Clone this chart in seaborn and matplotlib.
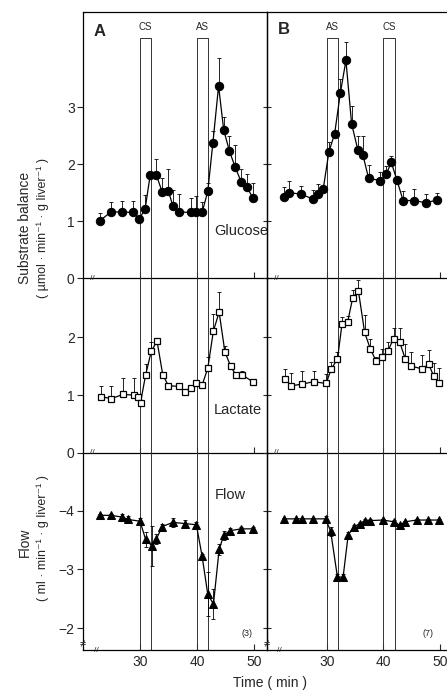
import numpy as np
import matplotlib
matplotlib.use('Agg')
import matplotlib.pyplot as plt
import seaborn as sns

# --- data (time in min) ---
glc_a_t = [22.9, 24.9, 26.9, 28.8, 29.9, 30.9, 31.8, 32.9, 33.9, 35.0, 35.8, 36.8,
           38.9, 39.9, 40.9, 41.9, 42.8, 43.8, 44.7, 45.7, 46.7, 47.8, 48.8, 49.8]
glc_a = [1.00, 1.16, 1.16, 1.15, 1.04, 1.21, 1.81, 1.80, 1.51, 1.52, 1.26, 1.16,
         1.15, 1.15, 1.15, 1.52, 2.37, 3.37, 2.60, 2.23, 1.95, 1.68, 1.59, 1.41]
glc_a_err = [0.14, 0.17, 0.20, 0.20, 0.0, 0.25, 0.0, 0.29, 0.24, 0.40, 0.29, 0.31,
             0.25, 0.29, 0.18, 0.14, 0.21, 0.50, 0.22, 0.27, 0.38, 0.23, 0.23, 0.25]

glc_b_t = [22.4, 23.4, 25.5, 27.5, 28.4, 29.4, 30.4, 31.4, 32.4, 33.4, 34.4,
           35.5, 36.4, 37.4, 39.5, 40.5, 41.4, 42.4, 43.5, 45.5, 47.5, 49.5]
glc_b = [1.43, 1.50, 1.47, 1.39, 1.47, 1.57, 2.22, 2.53, 3.24, 3.82, 2.71,
         2.25, 2.16, 1.75, 1.71, 1.82, 2.03, 1.72, 1.36, 1.36, 1.32, 1.37]
glc_b_err = [0.16, 0.21, 0.15, 0.16, 0.18, 0.0, 0.16, 0.0, 0.25, 0.33, 0.31,
             0.25, 0.33, 0.24, 0.15, 0.15, 0.12, 0.0, 0.17, 0.20, 0.15, 0.13]

lac_a_t = [23.1, 25.0, 27.0, 28.9, 29.7, 30.1, 31.0, 32.0, 33.0, 34.0, 35.0, 36.9,
           37.9, 38.9, 39.9, 40.9, 41.9, 42.9, 43.9, 44.9, 45.9, 46.8, 47.9, 49.8]
lac_a = [0.97, 0.94, 1.01, 1.00, 0.97, 0.87, 1.35, 1.76, 1.93, 1.35, 1.16, 1.15,
         1.05, 1.13, 1.20, 1.17, 1.46, 2.11, 2.43, 1.75, 1.50, 1.35, 1.35, 1.23]
lac_a_err = [0.19, 0.22, 0.28, 0.29, 0.0, 0.0, 0.18, 0.16, 0.0, 0.0, 0.0, 0.0,
             0.0, 0.0, 0.0, 0.05, 0.19, 0.29, 0.34, 0.10, 0.0, 0.0, 0.06, 0.0]

lac_b_t = [22.6, 23.75, 25.7, 27.7, 29.9, 30.8, 31.9, 32.7, 33.7, 34.6, 35.6, 36.7,
           37.7, 38.75, 39.8, 40.8, 41.8, 42.9, 43.9, 44.9, 46.9, 48.0, 48.9, 49.8]
lac_b = [1.28, 1.16, 1.19, 1.23, 1.20, 1.45, 1.62, 2.22, 2.26, 2.68, 2.80, 2.08,
         1.80, 1.58, 1.66, 1.76, 1.97, 1.91, 1.62, 1.50, 1.45, 1.53, 1.33, 1.20]
lac_b_err = [0.17, 0.22, 0.23, 0.19, 0.17, 0.12, 0.13, 0.12, 0.10, 0.13, 0.18, 0.30,
             0.17, 0.08, 0.14, 0.15, 0.19, 0.24, 0.26, 0.24, 0.24, 0.25, 0.23, 0.26]

flow_a_t = [22.9, 24.9, 26.9, 27.9, 30.0, 31.0, 32.1, 32.9, 33.9, 35.8,
            37.9, 39.9, 40.9, 41.9, 42.9, 43.9, 44.7, 45.8, 47.8, 49.8]
flow_a = [-3.92, -3.92, -3.89, -3.85, -3.82, -3.51, -3.40, -3.52, -3.73, -3.80,
          -3.78, -3.76, -3.23, -2.58, -2.41, -3.34, -3.58, -3.66, -3.69, -3.69]
flow_a_err = [0.03, 0.03, 0.05, 0.06, 0.05, 0.13, 0.34, 0.08, 0.05, 0.07,
              0.06, 0.05, 0.04, 0.37, 0.26, 0.10, 0.08, 0.05, 0.04, 0.04]

flow_b_t = [22.5, 24.6, 25.7, 27.6, 29.8, 30.7, 31.9, 32.9, 33.8, 34.8,
            35.8, 36.8, 37.7, 39.9, 41.9, 42.9, 43.8, 45.9, 47.9, 49.9]
flow_b = [-3.86, -3.86, -3.86, -3.86, -3.86, -3.65, -2.87, -2.87, -3.59, -3.72,
          -3.78, -3.83, -3.83, -3.84, -3.81, -3.75, -3.81, -3.84, -3.84, -3.84]
flow_b_err = [0.02, 0.02, 0.02, 0.02, 0.05, 0.08, 0.06, 0.06, 0.04, 0.03,
              0.03, 0.02, 0.02, 0.02, 0.03, 0.03, 0.02, 0.02, 0.02, 0.02]

# stimulus windows (label, start, end)
stim_a = [('CS', 30, 32), ('AS', 40, 42)]
stim_b = [('AS', 30, 32), ('CS', 40, 42)]

sns.set_style('ticks')
plt.rcParams['font.family'] = ['Liberation Sans', 'DejaVu Sans']

W, H = 447, 692
fig = plt.figure(figsize=(W / 100, H / 100), dpi=100)

def px_axes(x0, x1, y0, y1):
    # y0 = top pixel, y1 = bottom pixel
    return fig.add_axes([x0 / W, 1 - y1 / H, (x1 - x0) / W, (y1 - y0) / H])

rows = [(12, 278), (278, 453), (453, 650)]
cols = [(83, 267), (267, 449)]
xlims = [(20.0, 52.3), (19.46, 51.6)]
ylims = [(0, 4.67), (0, 3.02), (-1.63, -4.98)]

axes = [[px_axes(c[0], c[1], r[0], r[1]) for c in cols] for r in rows]

series = [
    [(glc_a_t, glc_a, glc_a_err), (glc_b_t, glc_b, glc_b_err)],
    [(lac_a_t, lac_a, lac_a_err), (lac_b_t, lac_b, lac_b_err)],
    [(flow_a_t, flow_a, flow_a_err), (flow_b_t, flow_b, flow_b_err)],
]
styles = [
    dict(marker='o', markersize=6, markerfacecolor='black', markeredgecolor='black'),
    dict(marker='s', markersize=5, markerfacecolor='white', markeredgecolor='black', markeredgewidth=0.9),
    dict(marker='^', markersize=6, markerfacecolor='black', markeredgecolor='black'),
]

for i in range(3):
    for j in range(2):
        ax = axes[i][j]
        t, v, e = series[i][j]
        t = np.array(t); v = np.array(v); e = np.array(e)
        if i < 2:
            yerr = [np.zeros_like(e), e]  # upward bars only
        else:
            yerr = [e, e]
        ax.errorbar(t, v, yerr=yerr, fmt='none', ecolor='black', elinewidth=0.6,
                    capsize=1.5, capthick=0.6, zorder=2)
        sns.lineplot(x=t, y=v, ax=ax, color='black', linewidth=0.9, zorder=3, **styles[i])

        ax.set_xlim(*xlims[j])
        ax.set_ylim(*ylims[i])
        ax.set_xlabel('')
        ax.set_ylabel('')
        ax.set_facecolor('none')

        # stimulus boxes / lines
        stims = stim_a if j == 0 else stim_b
        for lab, s0, s1 in stims:
            if i == 0:
                ax.plot([s0, s0, s1, s1], [0, 4.21, 4.21, 0], color='#333333', lw=0.7, zorder=1)
                ax.text((s0 + s1) / 2, 4.40, lab, ha='center', va='center', fontsize=7)
            else:
                ax.axvline(s0, color='#333333', lw=0.7, zorder=1)
                ax.axvline(s1, color='#333333', lw=0.7, zorder=1)

        for sp in ax.spines.values():
            sp.set_linewidth(0.9)
            sp.set_color('black')
        if j == 1:
            ax.spines['right'].set_visible(False)
        if i > 0:
            ax.spines['top'].set_visible(False)

        ax.set_xticks([30, 40, 50])
        ax.tick_params(axis='x', direction='in', length=4, width=0.8, labelsize=10)
        if i < 2:
            ax.tick_params(axis='x', labelbottom=False)

        if i == 0:
            yt = [0, 1, 2, 3]
        elif i == 1:
            yt = [0, 1, 2]
        else:
            yt = [-4, -3, -2]
        ax.set_yticks(yt)
        if j == 0:
            ax.tick_params(axis='y', direction='out', length=4, width=0.8, labelsize=10, pad=2)
            ax.set_yticklabels([str(y).replace('-', '\u2212') for y in yt])
        else:
            ax.tick_params(axis='y', direction='inout', length=6, width=0.8, labelleft=False)

        # axis break marks
        if i < 2:
            ax.text(0.05, 0.0, '//', transform=ax.transAxes, ha='center', va='center',
                    fontsize=6, zorder=4)
        else:
            ax.text(0.07, 0.0, '//', transform=ax.transAxes, ha='center', va='center',
                    fontsize=6, zorder=4)
            ax.text(0.0, 0.03, '\u2260', transform=ax.transAxes, ha='center', va='center',
                    fontsize=8, rotation=0, zorder=4)

# panel letters and labels
def ftext(x, y, s, **kw):
    fig.text(x / W, 1 - y / H, s, **kw)

ftext(100, 32, 'A', fontsize=12, fontweight='bold', ha='center', va='center')
ftext(284, 30, 'B', fontsize=12, fontweight='bold', ha='center', va='center')
ftext(214, 231, 'Glucose', fontsize=10.5, ha='left', va='center')
ftext(214, 410, 'Lactate', fontsize=10.5, ha='left', va='center')
ftext(215, 495, 'Flow', fontsize=10.5, ha='left', va='center')
ftext(247, 633, '(3)', fontsize=6.5, ha='center', va='center')
ftext(428, 633, '(7)', fontsize=6.5, ha='center', va='center')

ftext(25, 228, 'Substrate balance', fontsize=10, rotation=90, ha='center', va='center')
ftext(43, 228, '( \u00b5mol \u00b7 min\u207b\u00b9 \u00b7 g liver\u207b\u00b9 )', fontsize=9,
      rotation=90, ha='center', va='center')
ftext(25, 542, 'Flow', fontsize=10, rotation=90, ha='center', va='center')
ftext(43, 538, '( ml \u00b7 min\u207b\u00b9 \u00b7 g liver\u207b\u00b9 )', fontsize=9,
      rotation=90, ha='center', va='center')
ftext(270, 683, 'Time ( min )', fontsize=10, ha='center', va='center')

fig.savefig('out.png', dpi=100)
